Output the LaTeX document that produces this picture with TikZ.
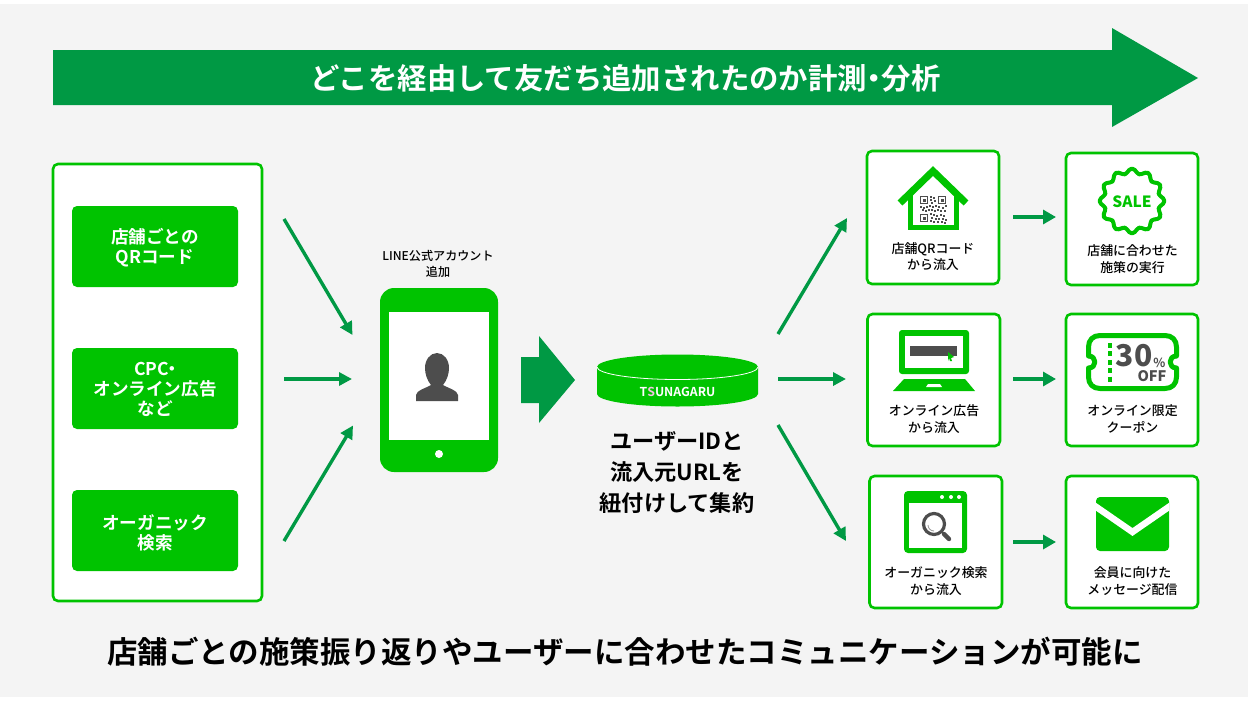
\documentclass[tikz,border=0pt]{standalone}
\usepackage{fontspec}
\setmainfont{Noto Sans CJK JP Medium}[BoldFont={Noto Sans CJK JP Bold}]
\newfontfamily\heavy{Noto Sans CJK JP Black}
\usetikzlibrary{arrows.meta}
\definecolor{lgreen}{HTML}{00C300}
\definecolor{dgreen}{HTML}{009944}
\definecolor{bgray}{HTML}{F4F4F4}
\definecolor{iconDark}{HTML}{4D4D4D}
\definecolor{brandpink}{HTML}{F3C4E0}
\tikzset{
  panel/.style={draw=lgreen,line width=2.6pt,fill=white,rounded corners=5pt},
  btn/.style={fill=lgreen,rounded corners=5pt},
  flow/.style={draw=dgreen,line width=3.4pt,-{Triangle[length=13pt,width=13pt]}},
  smallflow/.style={draw=dgreen,line width=3.2pt,-{Triangle[length=13pt,width=14pt]}},
  btntxt/.style={text=white,font=\bfseries\fontsize{17.6}{20}\selectfont,align=center,inner sep=0pt},
  caption/.style={text=black,font=\fontsize{12.9}{16.5}\selectfont,align=center,inner sep=0pt},
  bigtxt/.style={text=black,font=\bfseries\fontsize{22.2}{31}\selectfont,align=center,inner sep=0pt},
}
\begin{document}
\begin{tikzpicture}[x=1pt,y=-1pt]
\useasboundingbox (0,0) rectangle (1248,702);
\fill[white] (0,0) rectangle (1248,702);
\fill[bgray] (0,4) rectangle (1248,697);
% top arrow
\fill[dgreen] (53,50) -- (1112,50) -- (1112,28) -- (1198,78) -- (1112,127) -- (1112,105) -- (53,105) -- cycle;
\node[text=white,font=\bfseries\fontsize{29.4}{30}\selectfont,inner sep=0pt] (title) at (625.5,78) {どこを経由して友だち追加されたのか計測\kern-.25em・\kern-.25em分析};
% left panel
\draw[panel] (53,164) rectangle (262,601);
\fill[btn] (72,206) rectangle (238,287);
\fill[btn] (72,348) rectangle (238,429);
\fill[btn] (72,490) rectangle (238,571);
\node[btntxt] (b1) at (155,248) {店舗ごとの\\QRコード};
\node[btntxt] (b2) at (155,389.5) {CPC\kern-.3em・\kern-.3em\\オンライン広告\\など};
\node[btntxt] (b3) at (155,532.5) {オーガニック\\検索};
% left arrows
\coordinate (la1) at (284,219); \coordinate (le1) at (352.5,335);
\coordinate (la2) at (284,379); \coordinate (le2) at (352,379);
\coordinate (la3) at (284,541); \coordinate (le3) at (353,425.5);
\draw[flow] (la1) -- (le1);
\draw[flow] (la2) -- (le2);
\draw[flow] (la3) -- (le3);
% phone
\node[caption,font=\fontsize{12.1}{16}\selectfont] (phonecap) at (438,263.5) {LINE公式アカウント\\追加};
\fill[lgreen,rounded corners=14pt] (380,288) rectangle (498,472);
\fill[white] (389,312) rectangle (489,440);
\fill[white] (439,454) circle (4);
\fill[iconDark] (416,401) -- (416,395) .. controls (417,390) and (424,389) .. (431,385)
  .. controls (427,380) and (425,374) .. (425,368)
  .. controls (425,360) and (430,353) .. (437,353)
  .. controls (444,353) and (449,360) .. (449,368)
  .. controls (449,374) and (447,380) .. (443,385)
  .. controls (450,389) and (457,390) .. (458,395) -- (458,401) -- cycle;
% big arrow
\fill[dgreen] (521,357) -- (539,357) -- (539,336) -- (575,380) -- (539,423) -- (539,403) -- (521,403) -- cycle;
% cylinder
\fill[lgreen] (597,367) -- (597,394) arc[start angle=180,end angle=0,x radius=80.5,y radius=12.5] -- (758,367) -- cycle;
\fill[lgreen] (677.5,367) ellipse [x radius=80.5,y radius=12.5];
\draw[white,line width=0.8pt] (597,367) arc[start angle=180,end angle=0,x radius=80.5,y radius=12.5];
\node[text=white,font=\bfseries\fontsize{12.3}{14}\selectfont,inner sep=0pt] (brand) at (677.5,392) {T\textcolor{brandpink}{S}UNAGARU};
\node[bigtxt] (central) at (677,472.5) {ユーザーIDと\\流入元URLを\\紐付けして集約};
% right arrows
\coordinate (ra1) at (778,334); \coordinate (re1) at (847,218);
\coordinate (ra2) at (778,379); \coordinate (re2) at (846,379);
\coordinate (ra3) at (778,425); \coordinate (re3) at (846,541);
\draw[flow] (ra1) -- (re1);
\draw[flow] (ra2) -- (re2);
\draw[flow] (ra3) -- (re3);
% right boxes
\draw[panel] (867,151) rectangle (999,284);
\draw[panel] (1066,153) rectangle (1198,285);
\draw[panel] (867.5,314) rectangle (1000,446);
\draw[panel] (1066,314) rectangle (1198,446);
\draw[panel] (869.5,476) rectangle (1002,608);
\draw[panel] (1066,476) rectangle (1198,608);
% small arrows
\foreach \n/\yy in {1/217,2/379,3/542}{
  \coordinate (sa\n) at (1013,\yy); \coordinate (se\n) at (1056,\yy);
  \draw[smallflow] (sa\n) -- (se\n);
}
% captions
\node[caption] (c1) at (933,256.5) {店舗QRコード\\から流入};
\node[caption] (c2) at (1132.5,259) {店舗に合わせた\\施策の実行};
\node[caption] (c3) at (934,419) {オンライン広告\\から流入};
\node[caption] (c4) at (1132.5,419) {オンライン限定\\クーポン};
\node[caption] (c5) at (936,581) {オーガニック検索\\から流入};
\node[caption] (c6) at (1132.5,581) {会員に向けた\\メッセージ配信};
% house icon
\draw[lgreen,line width=7pt,line join=miter] (900,203) -- (933,171) -- (966,203);
\draw[lgreen,line width=5pt] (910.5,192) -- (910.5,227.5) -- (956.5,227.5) -- (956.5,192);
\begin{scope}[shift={(920,196)}]
 \foreach \px/\py in {0/0,18/0,0/18}{
   \draw[iconDark,line width=1.1pt] (\px+0.6,\py+0.6) rectangle (\px+7.6,\py+7.6);
   \fill[iconDark] (\px+2.6,\py+2.6) rectangle (\px+5.6,\py+5.6);
 }
 \foreach \px/\py in {10/0,13/1,10/3,14/4,11/6,0/10,3/11,6/10,9/9,12/10,15/9,18/10,22/11,25/9,2/13,5/14,8/13,11/13,14/14,17/13,20/14,24/14,10/17,13/18,16/19,20/18,23/19,11/21,15/22,18/22,22/22,25/23,10/24,13/25,17/25,21/25,24/26}{
   \fill[iconDark] (\px,\py) rectangle +(2,2);
 }
\end{scope}
% sale badge
\draw[lgreen,line width=4pt,line join=round] plot[smooth cycle,samples=72,domain=0:355,variable=\t] ({1132+(30+2.4*cos(12*\t))*cos(\t)},{201+(30+2.4*cos(12*\t))*sin(\t)});
\node[text=lgreen,font=\heavy\fontsize{15.5}{16}\selectfont,inner sep=0pt] (sale) at (1132,201.5) {SALE};
% laptop icon
\fill[lgreen,rounded corners=3pt] (899,330) rectangle (969,374);
\fill[white] (905,336) rectangle (963,368);
\fill[iconDark] (910,346) rectangle (957,356);
\fill[lgreen] (948,352) -- (954,357) -- (951,358) -- (952,361) -- (950,361) -- (949,358) -- (948,361) -- cycle;
\fill[lgreen] (904,379) -- (965,379) -- (975,391) -- (893,391) -- cycle;
\fill[white] (928,384) -- (940,384) -- (942,387) -- (926,387) -- cycle;
% coupon icon
\draw[lgreen,line width=5pt,line join=round] (1100,335.5) -- (1165,335.5)
  .. controls (1172,335.5) and (1176.5,340) .. (1176.5,347) -- (1176.5,356)
  .. controls (1168,356) and (1168,368) .. (1176.5,368) -- (1176.5,377)
  .. controls (1176.5,384) and (1172,388.5) .. (1165,388.5) -- (1100,388.5)
  .. controls (1093,388.5) and (1088.5,384) .. (1088.5,377) -- (1088.5,368)
  .. controls (1097,368) and (1097,356) .. (1088.5,356) -- (1088.5,347)
  .. controls (1088.5,340) and (1093,335.5) .. (1100,335.5) -- cycle;
\draw[lgreen,line width=3.6pt,dash pattern=on 5pt off 3.4pt] (1110,343) -- (1110,382);
\node[text=iconDark,font=\heavy\fontsize{30}{30}\selectfont,inner sep=0pt] (thirty) at (1134,356) {30};
\node[text=iconDark,font=\bfseries\fontsize{12.5}{14}\selectfont,inner sep=0pt] (pct) at (1159.5,362.5) {\%};
\node[text=iconDark,font=\heavy\fontsize{14.5}{14}\selectfont,inner sep=0pt] (off) at (1152,376.5) {OFF};
% browser icon
\fill[lgreen,rounded corners=4pt] (904,491) rectangle (967,553);
\fill[white] (909,503) rectangle (962,548);
\foreach \dx in {942,951,959}{ \fill[white] (\dx,497) circle (2); }
\draw[iconDark,line width=3.2pt] (934,524) circle (10.5);
\draw[iconDark,line width=2pt] (941.5,531.5) -- (944,534);
\draw[iconDark,line width=4.4pt,line cap=round] (944,534) -- (949,539);
\draw[iconDark!60,line width=0.8pt] (928,525) arc[start angle=180,end angle=90,radius=6];
% envelope icon
\fill[lgreen,rounded corners=4pt] (1096,497) rectangle (1169,551);
\begin{scope}
\clip (1096,497) rectangle (1169,551);
\draw[white,line width=6.5pt] (1092,504) -- (1132.5,532) -- (1173,504);
\end{scope}
% bottom text
\node[text=black,font=\bfseries\fontsize{30.5}{34}\selectfont,inner sep=0pt] (bottomline) at (625,651.5) {店舗ごとの施策振り返りやユーザーに合わせたコミュニケーションが可能に};
\end{tikzpicture}
\end{document}
